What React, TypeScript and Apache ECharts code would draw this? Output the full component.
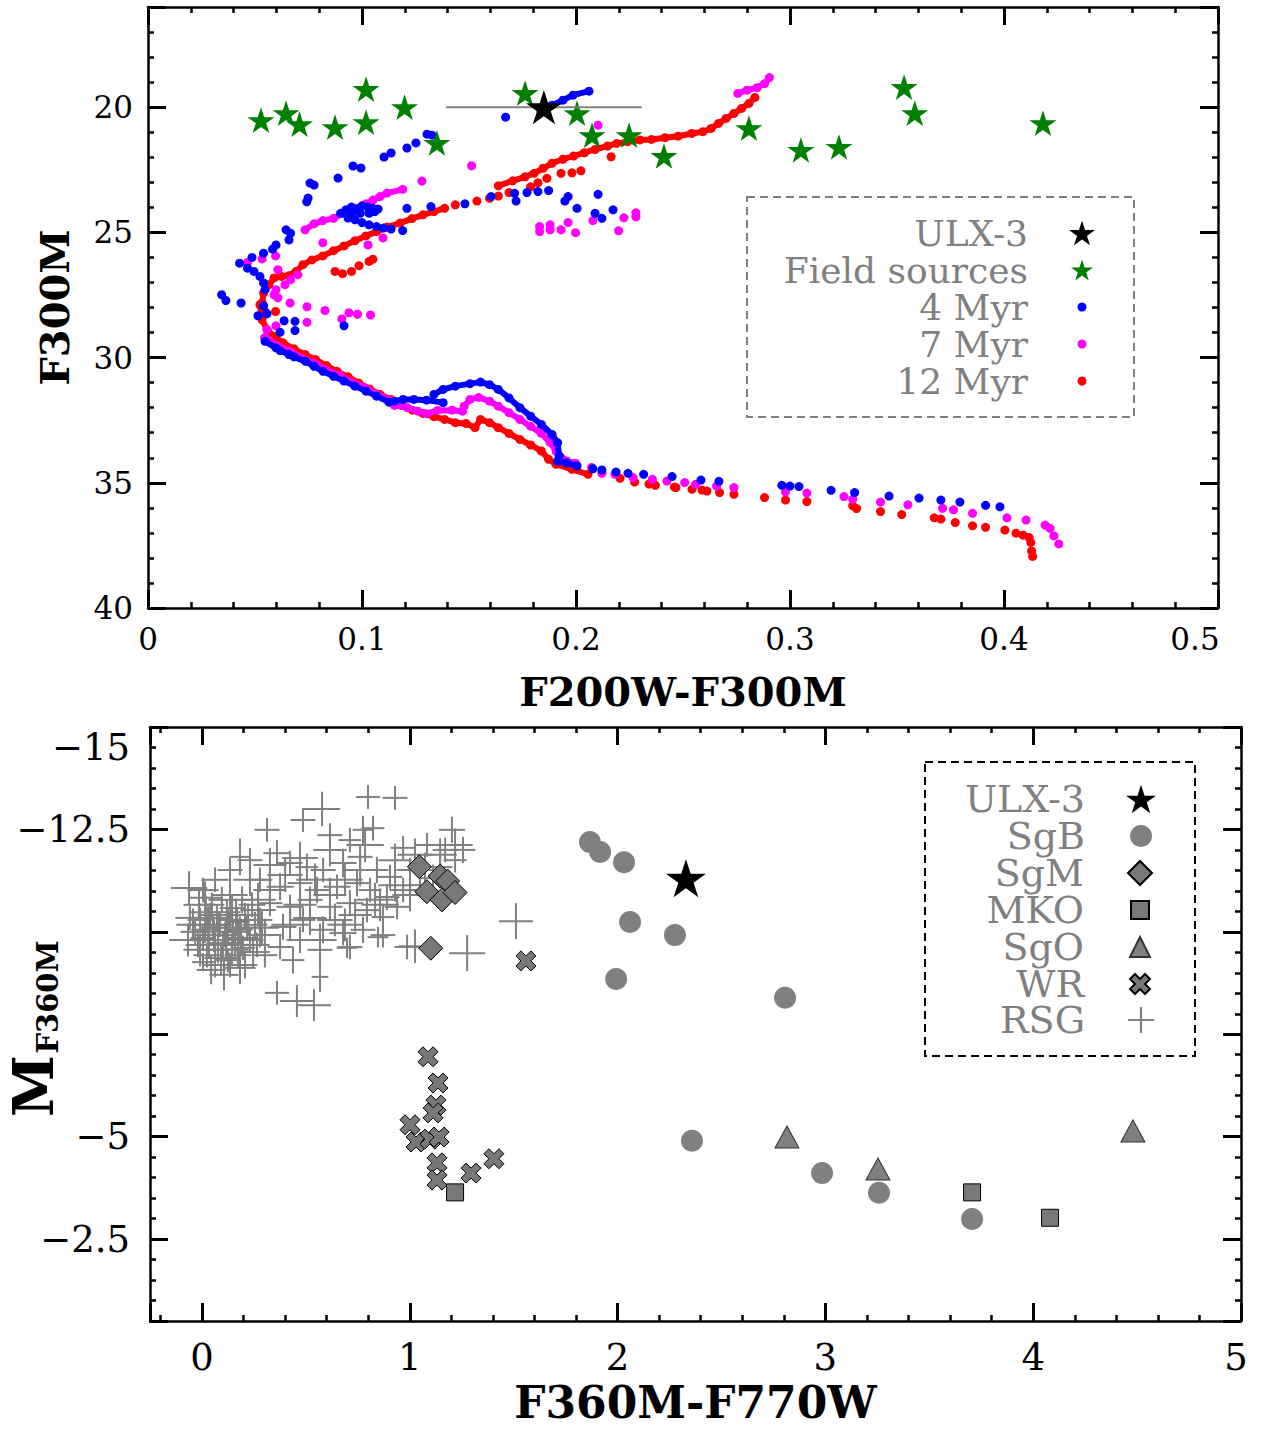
import React, { useEffect, useRef } from "react";
import * as echarts from "echarts";

const FONT = "DejaVu Serif";
const MINUS = "\u2212";
const W = 1262;
const H = 1429;

const STAR = "path://M100,0L122.45,69.1L195.1,69.1L136.3,111.8L158.8,180.9L100,138.2L41.2,180.9L63.7,111.8L4.9,69.1L77.55,69.1Z";
const XMARK = "path://M3,0L6,3L9,0L12,3L9,6L12,9L9,12L6,9L3,12L0,9L3,6L0,3Z";
const PLUS = "path://M0,11H24V13H0Z M11,0H13V24H11Z";

// ---------------- top panel (CMD) ----------------
const topXTickValues = [0, 0.1, 0.2, 0.3, 0.4, 0.5];
const topXTickLabels = ["0", "0.1", "0.2", "0.3", "0.4", "0.5"];
const topYTickValues = [20, 25, 30, 35, 40];

const ulx3Top = [[0.185, 20.0]];
const ulx3TopXErr = [0.0457];

const fieldSources = [
  [0.0528, 20.52], [0.0645, 20.24], [0.0708, 20.68], [0.0874, 20.8], [0.1019, 19.28], [0.1019, 20.6],
  [0.1199, 20.0], [0.135, 21.43], [0.1762, 19.44], [0.2005, 20.24], [0.2075, 21.12], [0.2248, 21.12],
  [0.2411, 21.95], [0.2808, 20.84], [0.3051, 21.71], [0.3229, 21.59], [0.3533, 19.2], [0.3583, 20.24],
  [0.4182, 20.64],
];

const myr4Dots = [
  [0.1671, 20.4],
  [0.1327, 21.12], [0.1304, 21.08], [0.1252, 21.43], [0.121, 21.63], [0.1136, 21.83], [0.1103, 21.99],
  [0.0995, 22.43], [0.0958, 22.35], [0.0888, 22.83], [0.0776, 23.11], [0.0757, 23.03], [0.0748, 23.63], [0.0742, 23.78],
  [0.09, 24.24], [0.0925, 24.1], [0.0951, 23.99], [0.0977, 24.07], [0.1, 23.94], [0.1026, 23.99], [0.1051, 24.04],
  [0.1075, 24.07], [0.0935, 24.43], [0.0967, 24.5], [0.1, 24.61], [0.1033, 24.7], [0.1068, 24.77], [0.1101, 24.83],
  [0.1136, 24.87], [0.119, 24.93], [0.0951, 24.3], [0.0992, 24.24], [0.1033, 24.24], [0.106, 24.17],
  [0.121, 24.04], [0.1322, 23.97], [0.1481, 23.86], [0.1603, 23.57], [0.1713, 23.44], [0.172, 23.75], [0.1771, 23.41],
  [0.1822, 23.37], [0.1872, 23.33], [0.1948, 23.75], [0.1963, 23.57], [0.2005, 24.04], [0.2089, 24.24], [0.2121, 24.44],
  [0.2103, 23.48], [0.2173, 24.1],
  [0.0645, 24.9], [0.0666, 25.03], [0.0659, 25.3], [0.0598, 25.5], [0.0582, 25.67], [0.054, 25.83], [0.0486, 26.0],
  [0.0428, 26.23], [0.0465, 26.43], [0.0495, 26.56], [0.0523, 26.76], [0.054, 27.02], [0.0547, 27.29], [0.0344, 27.49],
  [0.0364, 27.72], [0.0435, 27.82], [0.054, 27.93], [0.0514, 28.33], [0.0556, 28.25], [0.0636, 28.53], [0.0687, 28.55],
  [0.0617, 28.99], [0.0687, 28.92], [0.0916, 28.73],
  [0.2079, 34.44], [0.2121, 34.49], [0.2187, 34.57], [0.2243, 34.62], [0.2316, 34.66], [0.2449, 34.75], [0.2584, 34.89],
  [0.2668, 34.94], [0.2962, 35.1], [0.3, 35.13], [0.3042, 35.15], [0.3192, 35.3], [0.3302, 35.39], [0.3463, 35.53],
  [0.3603, 35.61], [0.3705, 35.69], [0.3794, 35.77], [0.3914, 35.9], [0.3981, 35.96],
];
const myr4Chains = [
  [[0.1836, 20.12], [0.1888, 19.92], [0.1939, 19.72], [0.1986, 19.52], [0.2061, 19.36]],
  [[0.0547, 29.35], [0.0598, 29.61], [0.0617, 29.72], [0.0659, 29.88], [0.0682, 29.97], [0.0736, 30.15], [0.0776, 30.35],
   [0.0818, 30.55], [0.0867, 30.75], [0.0916, 30.94], [0.0967, 31.14], [0.1019, 31.34], [0.1068, 31.54], [0.1126, 31.78],
   [0.1152, 31.74], [0.1192, 31.67], [0.1243, 31.67], [0.1302, 31.7], [0.1379, 31.8]],
  [[0.1336, 31.47], [0.1379, 31.27], [0.1436, 31.14], [0.1505, 31.04], [0.1554, 30.98], [0.1596, 31.08], [0.1637, 31.27],
   [0.1687, 31.61], [0.1738, 32.0], [0.1788, 32.34], [0.1838, 32.67], [0.1888, 33.07], [0.1914, 33.4], [0.1921, 33.93],
   [0.1914, 34.13], [0.1956, 34.2], [0.2005, 34.33]],
];

const myr7Dots = [
  [0.2103, 20.72], [0.1512, 22.34], [0.128, 22.95],
  [0.0817, 25.41], [0.1028, 25.5], [0.1098, 25.22], [0.0596, 25.94], [0.0533, 26.06], [0.0465, 26.2], [0.0607, 26.49],
  [0.07, 26.69], [0.0666, 26.89], [0.064, 27.09], [0.0598, 27.29], [0.0589, 27.49], [0.0607, 27.61], [0.0664, 27.82],
  [0.0743, 27.97], [0.0827, 28.12], [0.0939, 28.21], [0.0979, 28.27], [0.104, 28.3], [0.0743, 28.59], [0.0906, 28.46],
  [0.0598, 28.73], [0.0556, 28.88], [0.0545, 29.2],
  [0.183, 24.97], [0.183, 24.77], [0.1879, 24.7], [0.1879, 24.9], [0.193, 24.9], [0.1963, 24.61], [0.1998, 25.01],
  [0.2079, 24.53], [0.2199, 24.94], [0.2224, 24.42], [0.228, 24.22], [0.228, 24.38],
  [0.2073, 34.39], [0.2121, 34.62], [0.2182, 34.66], [0.2266, 34.79], [0.2357, 34.86], [0.2425, 34.93], [0.2508, 34.99],
  [0.2559, 35.06], [0.2657, 35.13], [0.2738, 35.19], [0.2979, 35.37], [0.3079, 35.41], [0.3252, 35.55], [0.3293, 35.66],
  [0.3423, 35.77], [0.3551, 35.88], [0.3713, 36.02], [0.3764, 36.08], [0.3853, 36.22], [0.4014, 36.4], [0.4103, 36.49],
  [0.4192, 36.69], [0.4215, 36.82], [0.4233, 37.12], [0.4256, 37.44],
];
const myr7Chains = [
  [[0.2756, 19.45], [0.2799, 19.32], [0.2846, 19.22], [0.2881, 19.06], [0.2904, 18.82]],
  [[0.119, 23.28], [0.1117, 23.43], [0.1084, 23.57], [0.1051, 23.71], [0.1019, 23.86], [0.0967, 24.04], [0.0909, 24.24],
   [0.0867, 24.44], [0.0817, 24.53], [0.0776, 24.66], [0.0734, 24.9]],
  [[0.0561, 29.28], [0.0664, 29.76], [0.078, 30.24], [0.0897, 30.72], [0.1014, 31.2], [0.1131, 31.71], [0.1152, 31.91],
   [0.121, 31.99], [0.1261, 32.14], [0.1302, 32.24], [0.1353, 32.11], [0.1421, 32.1], [0.147, 32.14], [0.1477, 31.94],
   [0.1505, 31.67], [0.1545, 31.59], [0.1596, 31.74], [0.1637, 31.94], [0.1687, 32.2], [0.1738, 32.47], [0.1788, 32.74],
   [0.1838, 33.03], [0.1879, 33.39], [0.1907, 33.73], [0.1956, 34.13], [0.1998, 34.22]],
];

const myr12Dots = [
  [0.1687, 23.41], [0.1637, 23.55], [0.1596, 23.64], [0.1537, 23.75], [0.1436, 23.9],
  [0.2164, 21.98], [0.193, 22.64], [0.1981, 22.62], [0.2023, 22.54], [0.1864, 22.84], [0.1822, 23.02], [0.1788, 23.18],
  [0.0874, 26.56], [0.0909, 26.65], [0.0951, 26.56], [0.0986, 26.33], [0.1033, 26.16], [0.1051, 26.07],
  [0.0596, 28.16], [0.0547, 28.16],
  [0.2206, 34.82], [0.2274, 34.97], [0.2341, 35.05], [0.2371, 35.1], [0.246, 35.17], [0.2467, 35.19], [0.2542, 35.26],
  [0.2589, 35.29], [0.2612, 35.33], [0.2671, 35.39], [0.2738, 35.46], [0.2881, 35.59], [0.2979, 35.69], [0.3079, 35.75],
  [0.3293, 35.92], [0.3311, 36.03], [0.3423, 36.15], [0.3522, 36.27], [0.3674, 36.4], [0.3705, 36.45], [0.3772, 36.59],
  [0.3853, 36.72], [0.3914, 36.78], [0.4004, 36.89], [0.4056, 37.01], [0.4089, 37.09], [0.4117, 37.18], [0.4125, 37.38],
  [0.4129, 37.72], [0.4134, 37.94],
];
const myr12Chains = [
  [[0.2836, 19.61], [0.2808, 19.85], [0.2773, 20.05], [0.2738, 20.25], [0.2701, 20.45], [0.2666, 20.65], [0.2631, 20.85],
   [0.2593, 20.98], [0.2541, 21.05], [0.2477, 21.16], [0.2416, 21.22], [0.2353, 21.29], [0.2299, 21.31], [0.2241, 21.38],
   [0.219, 21.45], [0.2148, 21.55], [0.2089, 21.69], [0.2039, 21.82], [0.1989, 21.95], [0.1939, 22.08], [0.1888, 22.24],
   [0.1846, 22.44], [0.1804, 22.64], [0.1762, 22.78], [0.1704, 22.94], [0.1637, 23.14]],
  [[0.1386, 24.04], [0.1336, 24.17], [0.1285, 24.3], [0.1234, 24.45], [0.1178, 24.63], [0.1117, 24.79], [0.1068, 24.97],
   [0.1018, 25.14], [0.0967, 25.33], [0.0916, 25.54], [0.0867, 25.73], [0.0817, 25.94], [0.0766, 26.1], [0.0724, 26.29],
   [0.0692, 26.56], [0.0657, 26.73], [0.0624, 26.76], [0.0589, 26.82], [0.0565, 27.09], [0.054, 27.42], [0.0533, 27.82],
   [0.0523, 27.89], [0.0533, 28.49], [0.0556, 28.88], [0.0589, 29.15], [0.0631, 29.41], [0.0682, 29.65], [0.0734, 29.88],
   [0.0783, 30.08], [0.0834, 30.32], [0.0883, 30.55], [0.0935, 30.77], [0.0984, 31.01], [0.1035, 31.25], [0.1084, 31.47],
   [0.1136, 31.67], [0.1185, 31.91], [0.1236, 32.1], [0.1285, 32.23], [0.1336, 32.36], [0.1386, 32.47], [0.1436, 32.6],
   [0.1486, 32.63], [0.1528, 32.8], [0.1554, 32.47], [0.1596, 32.6], [0.1637, 32.8], [0.1687, 33.03], [0.1738, 33.27],
   [0.1788, 33.49], [0.1838, 33.73], [0.1872, 34.06], [0.1907, 34.26], [0.1981, 34.46], [0.2056, 34.66]],
];

// ---------------- bottom panel ----------------
const botXTickValues = [0, 1, 2, 3, 4, 5];
const botYTickValues = [-15, -12.5, -5, -2.5];

const ulx3Bottom = [[2.329, -11.31]];
const sgB = [
  [1.867, -12.19], [1.916, -11.95], [2.031, -11.7], [2.06, -10.24], [2.276, -9.92], [1.993, -8.85], [2.806, -8.39],
  [2.358, -4.9], [2.984, -4.11], [3.258, -3.63], [3.706, -2.99],
];
const sgM = [
  [1.046, -11.59], [1.146, -11.36], [1.182, -11.24], [1.082, -10.98], [1.155, -10.78], [1.218, -10.96], [1.101, -9.6],
];
const mko = [[1.218, -3.64], [3.706, -3.64], [4.081, -3.02]];
const sgO = [[2.815, -4.99], [3.253, -4.21], [4.48, -5.14]];
const wr = [
  [1.088, -6.95], [1.136, -6.31], [1.126, -5.77], [1.112, -5.58], [1.001, -5.29], [1.03, -4.87], [1.097, -4.94],
  [1.141, -4.99], [1.131, -4.36], [1.131, -3.94], [1.295, -4.11], [1.405, -4.46], [1.559, -9.29],
];
// RSG: [colour, magnitude, colour error, magnitude error]
const rsg = [
  [0.799, -13.29, 0.058, 0.29], [0.929, -13.27, 0.06, 0.29], [0.578, -13.0, 0.087, 0.42], [0.486, -12.73, 0.06, 0.29],
  [0.313, -12.49, 0.06, 0.29], [0.616, -12.36, 0.06, 0.29], [0.712, -12.24, 0.055, 0.3], [0.775, -12.49, 0.05, 0.34],
  [0.823, -12.53, 0.055, 0.3], [1.203, -12.49, 0.063, 0.32], [1.256, -12.0, 0.06, 0.32], [1.083, -12.12, 0.06, 0.29],
  [0.968, -12.05, 0.06, 0.29], [0.005, -11.02, 0.075, 0.3], [-0.062, -11.07, 0.087, 0.41], [1.511, -10.26, 0.082, 0.44],
  [1.276, -9.48, 0.087, 0.44], [1.025, -9.65, 0.077, 0.41], [0.361, -8.51, 0.058, 0.29], [0.457, -8.31, 0.082, 0.39],
  [0.539, -8.21, 0.082, 0.39], [0.568, -8.9, 0.04, 0.37], [0.005, -9.26, 0.053, 0.22], [0.183, -11.83, 0.05, 0.45],
  [0.231, -11.75, 0.06, 0.3], [0.361, -11.92, 0.065, 0.32], [0.424, -11.68, 0.06, 0.3], [0.505, -11.58, 0.055, 0.33],
  [0.583, -11.51, 0.06, 0.3], [0.679, -11.68, 0.065, 0.35], [0.761, -11.83, 0.06, 0.3], [0.842, -11.51, 0.055, 0.32],
  [0.905, -11.34, 0.06, 0.3], [1.001, -11.51, 0.065, 0.3], [1.146, -11.58, 0.06, 0.32], [0.279, -11.27, 0.06, 0.3],
  [0.376, -11.1, 0.065, 0.33], [0.472, -11.19, 0.06, 0.3], [0.554, -11.02, 0.06, 0.32], [0.65, -11.1, 0.065, 0.3],
  [0.746, -11.19, 0.06, 0.33], [0.809, -11.02, 0.055, 0.3], [0.89, -10.85, 0.06, 0.32], [0.968, -11.02, 0.065, 0.3],
  [0.327, -10.7, 0.06, 0.32], [0.424, -10.61, 0.065, 0.3], [0.52, -10.78, 0.06, 0.33], [0.616, -10.61, 0.06, 0.3],
  [0.712, -10.7, 0.065, 0.32], [0.794, -10.53, 0.06, 0.3], [0.871, -10.36, 0.055, 0.33], [0.939, -10.61, 0.06, 0.3],
  [0.279, -10.29, 0.06, 0.3], [0.39, -10.12, 0.065, 0.32], [0.486, -10.29, 0.06, 0.3], [0.583, -10.05, 0.06, 0.33],
  [0.679, -9.97, 0.065, 0.3], [0.775, -10.05, 0.06, 0.32], [0.871, -9.92, 0.06, 0.3], [0.987, -9.63, 0.06, 0.3],
  [0.376, -9.63, 0.06, 0.3], [0.472, -9.8, 0.065, 0.32], [0.568, -9.56, 0.06, 0.3], [0.438, -9.31, 0.055, 0.33],
  [0.712, -9.63, 0.06, 0.3], [1.049, -11.14, 0.06, 0.3], [1.112, -11.31, 0.06, 0.33], [1.218, -11.75, 0.055, 0.3],
  [1.17, -12.0, 0.06, 0.3], [0.698, -9.61, 0.05, 0.25], [0.847, -9.87, 0.05, 0.25], [0.135, -11.51, 0.06, 0.3],
  [0.063, -11.27, 0.065, 0.3],
  [-0.009, -10.29, 0.06, 0.3], [0.015, -10.05, 0.065, 0.32], [0.039, -10.41, 0.06, 0.3], [0.063, -9.8, 0.06, 0.33],
  [0.087, -10.17, 0.065, 0.3], [0.111, -9.92, 0.06, 0.3], [0.135, -10.29, 0.06, 0.32], [0.159, -9.68, 0.065, 0.3],
  [0.183, -10.05, 0.06, 0.33], [0.207, -10.41, 0.06, 0.3], [0.231, -9.8, 0.065, 0.3], [0.255, -10.17, 0.06, 0.32],
  [-0.019, -9.68, 0.06, 0.3], [0.024, -9.43, 0.065, 0.3], [0.077, -9.56, 0.06, 0.33], [0.125, -9.31, 0.06, 0.3],
  [0.173, -9.43, 0.065, 0.3], [0.048, -10.66, 0.06, 0.3], [0.096, -10.78, 0.065, 0.32], [0.145, -10.58, 0.06, 0.3],
  [0.193, -10.78, 0.06, 0.33], [0.241, -10.66, 0.065, 0.3], [-0.033, -10.0, 0.07, 0.3], [0.005, -9.85, 0.06, 0.32],
  [0.053, -10.1, 0.065, 0.3], [0.101, -9.68, 0.06, 0.3], [0.149, -10.0, 0.065, 0.33], [0.197, -9.61, 0.06, 0.3],
  [0.265, -9.68, 0.06, 0.3], [0.072, -10.34, 0.06, 0.3], [0.12, -10.48, 0.065, 0.3], [0.169, -10.24, 0.06, 0.32],
  [0.217, -10.1, 0.06, 0.3], [0.034, -9.68, 0.06, 0.3], [0.135, -9.19, 0.06, 0.3], [0.063, -9.19, 0.055, 0.3],
  [0.279, -9.92, 0.06, 0.3], [0.303, -9.43, 0.06, 0.3], [-0.058, -10.34, 0.07, 0.3], [0.207, -9.19, 0.06, 0.33],
  [-0.043, -10.17, 0.08, 0.4], [-0.014, -10.66, 0.075, 0.38], [0.019, -10.48, 0.08, 0.4], [0.058, -9.92, 0.09, 0.42],
  [0.092, -9.36, 0.08, 0.4], [0.116, -9.73, 0.085, 0.45], [0.145, -9.56, 0.08, 0.4], [0.164, -10.41, 0.09, 0.4],
  [0.188, -9.85, 0.085, 0.42], [0.222, -10.29, 0.08, 0.4], [0.246, -9.51, 0.08, 0.38], [0.27, -10.53, 0.085, 0.4],
  [0.289, -10.1, 0.08, 0.4], [0.044, -9.07, 0.07, 0.35], [0.106, -8.95, 0.07, 0.38], [0.183, -9.12, 0.075, 0.4],
  [-0.009, -9.56, 0.08, 0.4], [-0.067, -9.8, 0.09, 0.4], [0.015, -10.83, 0.08, 0.4], [0.135, -10.9, 0.085, 0.42],
  [0.077, -10.0, 0.1, 0.45], [0.125, -10.1, 0.1, 0.45], [0.029, -10.17, 0.1, 0.45], [0.173, -9.8, 0.09, 0.45],
  [0.327, -11.02, 0.08, 0.4], [0.4, -11.39, 0.085, 0.42], [0.472, -10.66, 0.08, 0.4], [0.544, -11.27, 0.09, 0.4],
  [0.616, -10.9, 0.08, 0.42], [0.688, -11.27, 0.085, 0.4], [0.761, -11.51, 0.08, 0.4], [0.833, -10.78, 0.09, 0.42],
  [0.929, -11.14, 0.08, 0.4], [1.001, -10.9, 0.085, 0.4], [1.073, -11.51, 0.08, 0.42], [1.146, -11.88, 0.08, 0.4],
  [1.218, -12.12, 0.085, 0.4], [0.303, -9.92, 0.08, 0.4], [0.424, -10.17, 0.09, 0.4], [0.52, -10.34, 0.08, 0.42],
  [0.64, -10.29, 0.085, 0.4], [0.737, -10.41, 0.08, 0.4], [0.857, -10.66, 0.09, 0.4], [0.327, -11.63, 0.08, 0.42],
  [0.472, -11.8, 0.085, 0.4], [0.616, -12.0, 0.08, 0.4], [0.785, -12.12, 0.09, 0.42], [0.929, -11.75, 0.08, 0.4],
  [1.025, -11.88, 0.085, 0.4], [0.231, -11.27, 0.08, 0.4], [0.27, -10.78, 0.085, 0.42], [0.568, -9.8, 0.08, 0.4],
  [0.688, -10.17, 0.085, 0.4],
];

const near = (a: number, b: number) => Math.abs(a - b) < 1e-6;

function errorBarRender(color: string, width: number) {
  return (params: any, api: any) => {
    const x = api.value(0);
    const y = api.value(1);
    const ex = api.value(2);
    const ey = api.value(3);
    const children: any[] = [];
    if (ex > 0) {
      const a = api.coord([x - ex, y]);
      const b = api.coord([x + ex, y]);
      children.push({ type: "line", shape: { x1: a[0], y1: a[1], x2: b[0], y2: b[1] }, style: { stroke: color, lineWidth: width } });
    }
    if (ey > 0) {
      const a = api.coord([x, y - ey]);
      const b = api.coord([x, y + ey]);
      children.push({ type: "line", shape: { x1: a[0], y1: a[1], x2: b[0], y2: b[1] }, style: { stroke: color, lineWidth: width } });
    }
    return { type: "group", children };
  };
}

const tickStyle = {
  axisLine: { show: true, onZero: false, lineStyle: { color: "#000", width: 2.5 } },
  axisTick: { show: true, inside: true, length: 18, lineStyle: { color: "#000", width: 3 } },
  minorTick: { show: true, splitNumber: 5, length: 6, lineStyle: { color: "#000", width: 2.5 } },
  splitLine: { show: false },
  minorSplitLine: { show: false },
};

function makeLegend(name: string, size: number, cx: number, cy: number, textEnd: number, fontSize: number, icon?: string) {
  const lh = 34;
  return {
    show: true,
    orient: "vertical",
    align: "right",
    selectedMode: false,
    padding: 0,
    itemGap: 0,
    right: W - cx - size / 2,
    top: cy - Math.max(size, lh) / 2,
    itemWidth: size,
    itemHeight: size,
    data: [icon ? { name, icon } : name],
    textStyle: {
      fontFamily: FONT,
      fontSize,
      lineHeight: lh,
      color: "#808080",
      padding: [0, Math.max(0, cx - size / 2 - 5 - textEnd), 0, 0],
    },
  };
}

function buildOption(): any {
  const chainSeries = (chains: number[][][], color: string, z: number, tag: string) =>
    chains.map((c, i) => ({
      type: "line",
      name: tag + "-chain-" + i,
      xAxisIndex: 0,
      yAxisIndex: 0,
      data: c,
      symbol: "circle",
      symbolSize: 9,
      showSymbol: true,
      lineStyle: { color, width: 6, cap: "round", join: "round", opacity: 1 },
      itemStyle: { color, opacity: 1 },
      z,
      silent: true,
      legendHoverLink: false,
    }));

  const topYFormatter = (v: number) => (topYTickValues.some((t) => near(t, v)) ? String(v) : "");
  const topXFormatter = (v: number) => {
    const i = topXTickValues.findIndex((t) => near(t, v));
    if (i < 0) return "";
    if (i === topXTickValues.length - 1) return "{r|" + topXTickLabels[i] + "}";
    return topXTickLabels[i];
  };
  const botXFormatter = (v: number) => {
    const i = botXTickValues.findIndex((t) => near(t, v));
    if (i < 0) return "";
    if (i === botXTickValues.length - 1) return "{e|" + String(botXTickValues[i]) + "}";
    return String(botXTickValues[i]);
  };
  const botYFormatter = (v: number) => {
    if (!botYTickValues.some((t) => near(t, v))) return "";
    const s = MINUS + String(Math.abs(v));
    return near(v, botYTickValues[0]) ? "{d|" + s + "}" : s;
  };

  const topLabel = { fontFamily: FONT, fontSize: 31, color: "#000" };
  const botLabel = { fontFamily: FONT, fontSize: 37, color: "#000" };
  const scat = (o: any) => ({ type: "scatter", ...o, itemStyle: { opacity: 1, ...o.itemStyle } });

  return {
    backgroundColor: "#fff",
    animation: false,
    grid: [
      { left: 148, top: 7, width: 1070, height: 601, containLabel: false, outerBoundsMode: "none" },
      { left: 150, top: 727, width: 1091, height: 594, containLabel: false, outerBoundsMode: "none" },
    ],
    xAxis: [
      {
        gridIndex: 0, type: "value", position: "bottom", min: 0, max: 0.5, splitNumber: 5,
        name: "F200W-F300M", nameLocation: "middle", nameGap: 63,
        nameTextStyle: { fontFamily: FONT, fontSize: 40, fontWeight: "bold", color: "#000" },
        axisLabel: { ...topLabel, margin: 15, showMinLabel: true, showMaxLabel: true, formatter: topXFormatter,
          rich: { r: { ...topLabel, padding: [0, 46, 0, 0] } } },
        ...tickStyle,
      },
      { gridIndex: 0, type: "value", position: "top", min: 0, max: 0.5, splitNumber: 5, axisLabel: { show: false }, ...tickStyle },
      {
        gridIndex: 1, type: "value", position: "bottom", min: -0.25, max: 5, splitNumber: 5,
        name: "F360M-F770W", nameLocation: "middle", nameGap: 59,
        nameTextStyle: { fontFamily: FONT, fontSize: 44, fontWeight: "bold", color: "#000" },
        axisLabel: { ...botLabel, margin: 18, showMinLabel: true, showMaxLabel: true, formatter: botXFormatter,
          rich: { e: { ...botLabel, padding: [0, 10, 0, 0] } } },
        ...tickStyle,
      },
      { gridIndex: 1, type: "value", position: "top", min: -0.25, max: 5, splitNumber: 5, axisLabel: { show: false }, ...tickStyle },
    ],
    yAxis: [
      {
        gridIndex: 0, type: "value", position: "left", min: 16, max: 40, splitNumber: 5, inverse: true,
        name: "F300M", nameLocation: "middle", nameGap: 74, nameRotate: 90,
        nameTextStyle: { fontFamily: FONT, fontSize: 40, fontWeight: "bold", color: "#000" },
        axisLabel: { ...topLabel, margin: 15, showMinLabel: true, showMaxLabel: true, formatter: topYFormatter },
        ...tickStyle,
      },
      { gridIndex: 0, type: "value", position: "right", min: 16, max: 40, splitNumber: 5, inverse: true, axisLabel: { show: false }, ...tickStyle },
      {
        gridIndex: 1, type: "value", position: "left", min: -15, max: -0.5, interval: 2.5, inverse: true,
        axisLabel: { ...botLabel, margin: 20, showMinLabel: true, showMaxLabel: true, formatter: botYFormatter,
          rich: { d: { ...botLabel, padding: [40, 0, 0, 0] } } },
        ...tickStyle,
      },
      { gridIndex: 1, type: "value", position: "right", min: -15, max: -0.5, interval: 2.5, inverse: true, axisLabel: { show: false }, ...tickStyle },
    ],
    legend: [
      makeLegend("ULX-3", 26, 1082, 232, 1028, 36),
      makeLegend("Field sources", 22, 1082, 269, 1028, 36),
      makeLegend("4 Myr", 9, 1082, 306, 1028, 36),
      makeLegend("7 Myr", 9, 1082, 343, 1028, 36),
      makeLegend("12 Myr", 9, 1082, 380, 1028, 36),
      makeLegend("ULX-3", 30, 1141, 797, 1085, 38),
      makeLegend("SgB", 22, 1141, 834, 1085, 38),
      makeLegend("SgM", 24, 1141, 871, 1085, 38),
      makeLegend("MKO", 18, 1141, 908, 1085, 38),
      makeLegend("SgO", 20, 1141, 945, 1085, 38),
      makeLegend("WR", 20, 1141, 982, 1085, 38),
      makeLegend("RSG", 26, 1141, 1018, 1085, 38, PLUS),
    ],
    graphic: [
      { type: "rect", shape: { x: 747, y: 197, width: 387, height: 220 }, style: { fill: "none", stroke: "#808080", lineWidth: 2, lineDash: [8, 5] }, z: 10 },
      { type: "rect", shape: { x: 925, y: 762, width: 270, height: 294 }, style: { fill: "none", stroke: "#000", lineWidth: 2, lineDash: [8, 5] }, z: 10 },
      // bottom y-axis title M with subscript F360M
      { type: "text", x: 33, y: 1086, rotation: Math.PI / 2, style: { text: "M", fontFamily: FONT, fontSize: 56, fontWeight: "bold", fill: "#000", align: "center", verticalAlign: "middle" }, z: 10 },
      { type: "text", x: 48, y: 997, rotation: Math.PI / 2, style: { text: "F360M", fontFamily: FONT, fontSize: 29, fontWeight: "bold", fill: "#000", align: "center", verticalAlign: "middle" }, z: 10 },
    ],
    series: [
      // ---- top panel
      scat({ name: "12 Myr", xAxisIndex: 0, yAxisIndex: 0, data: myr12Dots, symbol: "circle", symbolSize: 9, itemStyle: { color: "#ff0000" }, z: 2 }),
      ...chainSeries(myr12Chains, "#ff0000", 2, "r"),
      scat({ name: "7 Myr", xAxisIndex: 0, yAxisIndex: 0, data: myr7Dots, symbol: "circle", symbolSize: 9, itemStyle: { color: "#ff00ff" }, z: 3 }),
      ...chainSeries(myr7Chains, "#ff00ff", 3, "m"),
      scat({ name: "4 Myr", xAxisIndex: 0, yAxisIndex: 0, data: myr4Dots, symbol: "circle", symbolSize: 9, itemStyle: { color: "#0000ff" }, z: 4 }),
      ...chainSeries(myr4Chains, "#0000ff", 4, "b"),
      scat({ name: "Field sources", xAxisIndex: 0, yAxisIndex: 0, data: fieldSources, symbol: STAR, symbolKeepAspect: true, symbolSize: 27, itemStyle: { color: "#008000" }, z: 5 }),
      {
        type: "custom", name: "ULX-3 error", xAxisIndex: 0, yAxisIndex: 0,
        data: ulx3Top.map((p, i) => [p[0], p[1], ulx3TopXErr[i], 0]),
        dimensions: ["x", "y", "ex", "ey"], encode: { x: 0, y: 1 },
        renderItem: errorBarRender("#808080", 2), itemStyle: { color: "#808080" }, z: 6, silent: true,
      },
      scat({ name: "ULX-3", xAxisIndex: 0, yAxisIndex: 0, data: ulx3Top, symbol: STAR, symbolKeepAspect: true, symbolSize: 36, itemStyle: { color: "#000" }, z: 7 }),
      // ---- bottom panel
      {
        type: "custom", name: "RSG", xAxisIndex: 2, yAxisIndex: 2, data: rsg,
        dimensions: ["x", "y", "ex", "ey"], encode: { x: 0, y: 1 },
        renderItem: errorBarRender("#808080", 2), itemStyle: { color: "#808080" }, z: 2, silent: true,
      },
      scat({ name: "SgM", xAxisIndex: 2, yAxisIndex: 2, data: sgM, symbol: "diamond", symbolSize: 24, itemStyle: { color: "#787878", borderColor: "#000", borderWidth: 1 }, z: 3 }),
      scat({ name: "WR", xAxisIndex: 2, yAxisIndex: 2, data: wr, symbol: XMARK, symbolSize: 20, itemStyle: { color: "#787878", borderColor: "#000", borderWidth: 1 }, z: 3 }),
      scat({ name: "SgB", xAxisIndex: 2, yAxisIndex: 2, data: sgB, symbol: "circle", symbolSize: 22, itemStyle: { color: "#808080" }, z: 3 }),
      scat({ name: "MKO", xAxisIndex: 2, yAxisIndex: 2, data: mko, symbol: "rect", symbolSize: 17, itemStyle: { color: "#787878", borderColor: "#000", borderWidth: 1 }, z: 3 }),
      scat({ name: "SgO", xAxisIndex: 2, yAxisIndex: 2, data: sgO, symbol: "triangle", symbolSize: [24, 22], itemStyle: { color: "#808080", borderColor: "#333", borderWidth: 1 }, z: 3 }),
      scat({ name: "ULX-3", xAxisIndex: 2, yAxisIndex: 2, data: ulx3Bottom, symbol: STAR, symbolKeepAspect: true, symbolSize: 40, itemStyle: { color: "#000" }, z: 5 }),
    ],
  };
}

export default function App() {
  const ref = useRef<HTMLDivElement | null>(null);
  useEffect(() => {
    if (!ref.current) return;
    const chart = echarts.init(ref.current, undefined, { renderer: "svg" });
    chart.setOption(buildOption());
    return () => chart.dispose();
  }, []);
  return <div ref={ref} style={{ position: "absolute", left: 0, top: 0, width: W, height: H, background: "#fff" }} />;
}
